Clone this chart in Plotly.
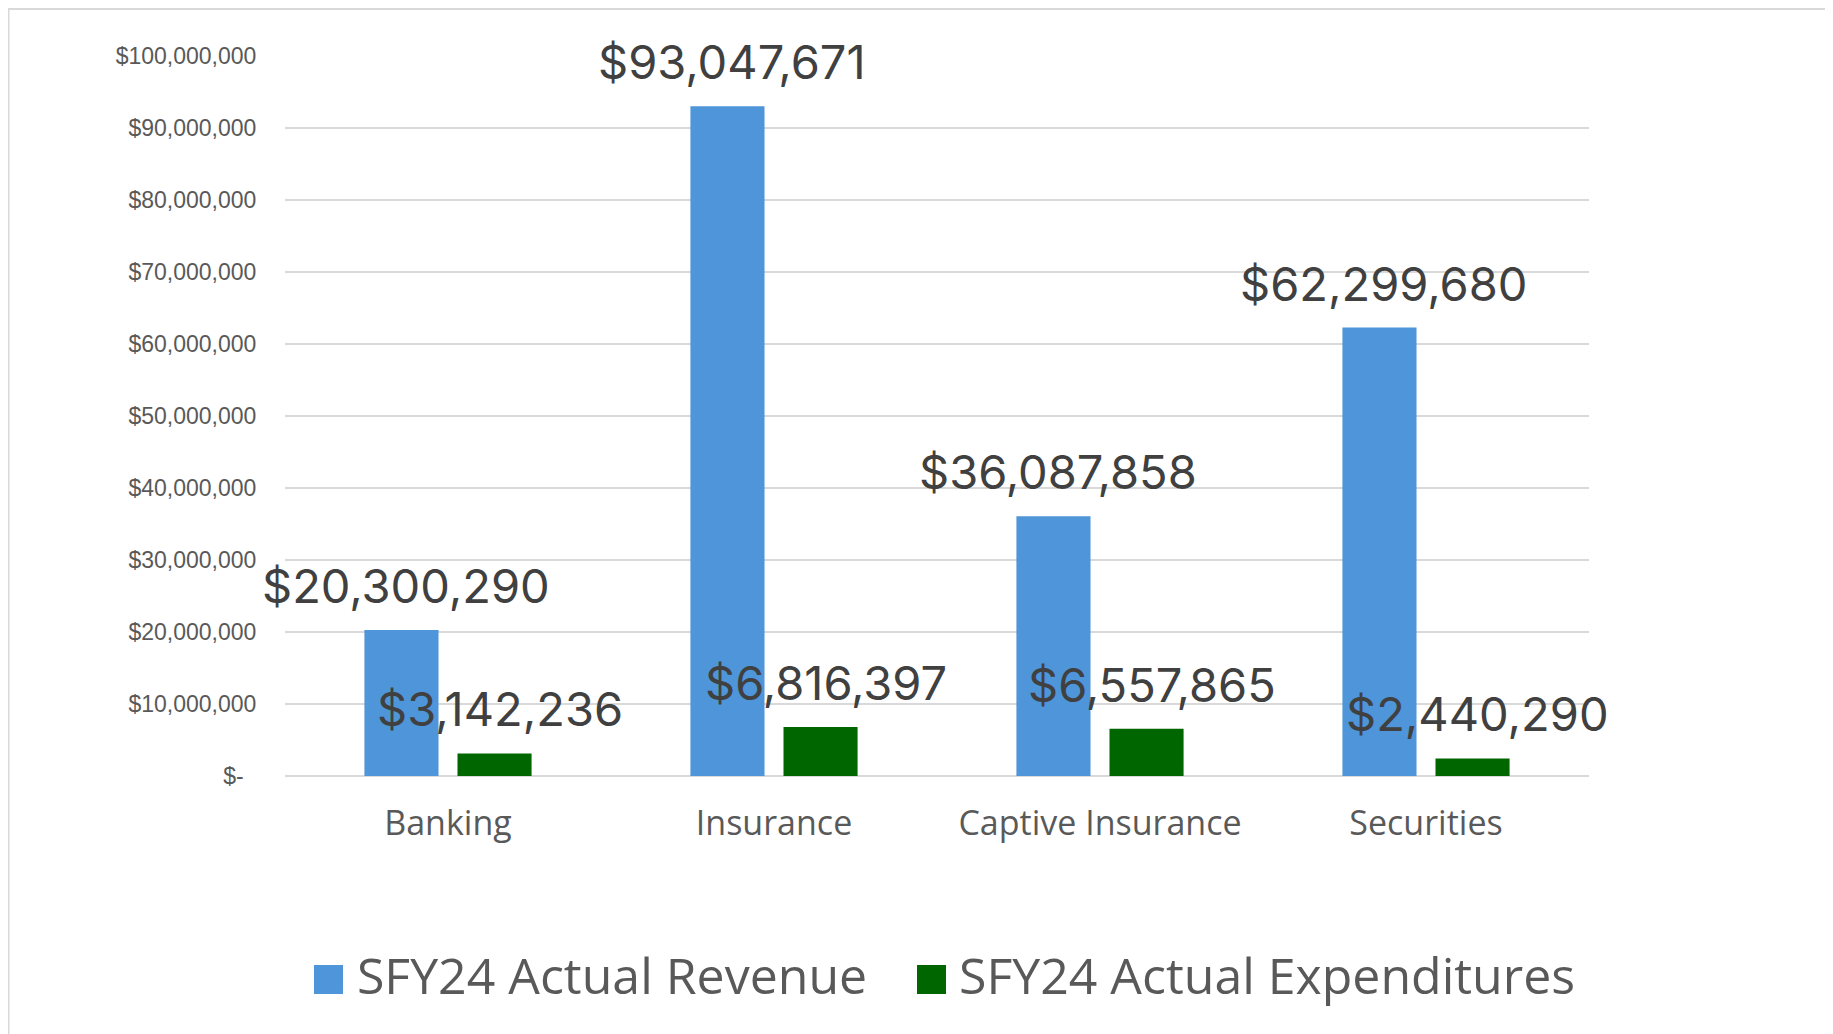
import plotly.graph_objects as go

# ---------------- data ----------------
categories = ["Banking", "Insurance", "Captive Insurance", "Securities"]
revenue = [20300290, 93047671, 36087858, 62299680]
expenditures = [3142236, 6816397, 6557865, 2440290]
series_names = ["SFY24 Actual Revenue", "SFY24 Actual Expenditures"]
y_tick_values = [0, 10000000, 20000000, 30000000, 40000000, 50000000,
                 60000000, 70000000, 80000000, 90000000, 100000000]
y_tick_labels = ["$-\u00a0\u00a0", "$10,000,000", "$20,000,000", "$30,000,000",
                 "$40,000,000", "$50,000,000", "$60,000,000", "$70,000,000",
                 "$80,000,000", "$90,000,000", "$100,000,000"]

# ---------------- layout constants ----------------
# the page adds an 8px body margin, so the figure is 8px smaller than the window
W, H = 1825, 1026
ML, MR, MT, MB = 277, 244, 48, 258
PW = W - ML - MR
PH = H - MT - MB
BARGAP = 0.429
BARGROUPGAP = 0.204

BLUE = "#4E95D9"
GREEN = "#006600"
LABEL_COLOR = "#404040"
AXIS_TEXT = "#595959"
GRID = "#D9D9D9"


def px_x(x):
    """figure pixel -> paper x"""
    return (x - ML) / PW


def px_y(y):
    """figure pixel -> paper y"""
    return (H - MB - y) / PH


fig = go.Figure()
fig.add_trace(go.Bar(x=categories, y=revenue, name=series_names[0], legend="legend",
                     marker=dict(color=BLUE, line=dict(width=0))))
fig.add_trace(go.Bar(x=categories, y=expenditures, name=series_names[1], legend="legend2",
                     marker=dict(color=GREEN, line=dict(width=0))))

# data labels, centred over each bar of the group
slot = PW / len(categories) * (1 - BARGAP) / 2
for sign, values in ((-1, revenue), (1, expenditures)):
    for cat, v in zip(categories, values):
        fig.add_annotation(x=cat, y=v, xref="x", yref="y",
                           xshift=sign * slot / 2 + 5, yshift=14,
                           yanchor="bottom", xanchor="center",
                           text=f"${v:,.0f}", showarrow=False,
                           font=dict(family="Inter", size=47, color=LABEL_COLOR))

# outer chart border
fig.add_shape(type="rect", xref="paper", yref="paper", layer="below",
              x0=px_x(0.5), x1=px_x(1819), y0=px_y(1040), y1=px_y(1),
              line=dict(color=GRID, width=2), fillcolor="rgba(0,0,0,0)")

# larger legend swatches (Excel-style squares behind the legend symbols)
for left, color in ((306, BLUE), (909, GREEN)):
    fig.add_shape(type="rect", xref="paper", yref="paper", layer="above",
                  x0=px_x(left), x1=px_x(left + 29), y0=px_y(986), y1=px_y(957),
                  line=dict(width=0), fillcolor=color)

legend_style = dict(orientation="h", yanchor="middle", y=-0.276, xanchor="left",
                    font=dict(family="Open Sans", size=50, color=AXIS_TEXT),
                    bgcolor="rgba(0,0,0,0)", borderwidth=0,
                    itemclick=False, itemdoubleclick=False)

fig.update_layout(
    width=W, height=H,
    margin=dict(l=ML, r=MR, t=MT, b=MB, pad=0),
    paper_bgcolor="white", plot_bgcolor="white",
    barmode="group", bargap=BARGAP, bargroupgap=BARGROUPGAP,
    font=dict(family="Open Sans", color=AXIS_TEXT),
    showlegend=True,
    legend=dict(legend_style, x=0.0245),
    legend2=dict(legend_style, x=0.4862),
)
fig.update_xaxes(range=[-0.5, len(categories) - 0.5], autorange=False,
                 showgrid=False, showline=False, zeroline=False,
                 ticks="outside", ticklen=17, tickcolor="rgba(0,0,0,0)",
                 tickfont=dict(family="Open Sans", size=34, color=AXIS_TEXT))
fig.update_yaxes(range=[0, 100040000], autorange=False, tickmode="array",
                 tickvals=y_tick_values, ticktext=y_tick_labels,
                 showgrid=True, gridcolor=GRID, gridwidth=1.5,
                 zeroline=True, zerolinecolor=GRID, zerolinewidth=1.5,
                 showline=False, ticks="outside", ticklen=23,
                 tickcolor="rgba(0,0,0,0)",
                 tickfont=dict(family="Liberation Sans", size=23, color=AXIS_TEXT))

fig.write_html("out.html")
